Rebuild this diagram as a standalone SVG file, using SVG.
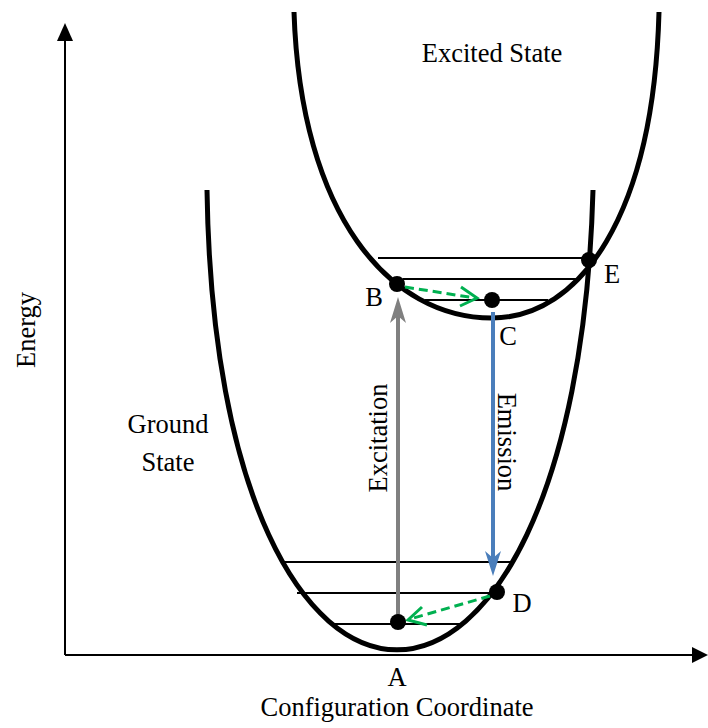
<svg xmlns="http://www.w3.org/2000/svg" width="708" height="728" viewBox="0 0 708 728">
<style>
.curve{fill:none;stroke:#000;stroke-width:5}
.lvl{stroke:#000;stroke-width:2}
.axis{stroke:#000;stroke-width:2;fill:none}
.dot{fill:#000}
.lbl{font-family:"Liberation Serif","Times New Roman",serif;font-size:26.5px;fill:#000;text-anchor:middle}
.green{stroke:#00b050;stroke-width:3;fill:none}
.dash{stroke-dasharray:9 5}
</style>
<rect width="708" height="728" fill="#fff"/>
<g id="axes">
<line class="axis" x1="65" y1="655" x2="65" y2="38"/>
<polygon points="65,23 57,41 73,41" fill="#000"/>
<line class="axis" x1="65" y1="655" x2="694" y2="655"/>
<polygon points="708,655 692,647 692,663" fill="#000"/>
<text class="lbl" transform="translate(35,330) rotate(-90)">Energy</text>
<text class="lbl" x="397" y="716">Configuration Coordinate</text>
</g>
<g id="ground">
<path class="curve" d="M207,190 C216,803 576,803 593,190"/>
<line class="lvl" x1="281" y1="562" x2="514" y2="562"/>
<line class="lvl" x1="297" y1="593" x2="497" y2="593"/>
<line class="lvl" x1="333" y1="624" x2="465" y2="624"/>
<text class="lbl" x="168" y="433">Ground</text>
<text class="lbl" x="168" y="471">State</text>
</g>
<g id="excited">
<path class="curve" d="M294,12 C300.7,215.9 390,318 492,318 C580,318 653.4,215.9 659,12"/>
<line class="lvl" x1="378" y1="258" x2="590" y2="258"/>
<line class="lvl" x1="403" y1="279" x2="576" y2="279"/>
<line class="lvl" x1="425" y1="300" x2="548" y2="300"/>
<text class="lbl" x="492" y="62">Excited State</text>
</g>
<g id="connectors">
<line x1="398" y1="622" x2="398" y2="312" stroke="#808080" stroke-width="4"/>
<path d="M398,297 L406,323 L398,316 L390,323 Z" fill="#808080"/>
<text class="lbl" transform="translate(387,438) rotate(-90)">Excitation</text>
<line x1="493" y1="312" x2="493" y2="560" stroke="#4a7ebb" stroke-width="4"/>
<path d="M493,576 L485,551 L493,558 L501,551 Z" fill="#4a7ebb"/>
<text class="lbl" transform="translate(498,442) rotate(90)">Emission</text>
<line class="green dash" x1="405" y1="287" x2="475" y2="298"/>
<polyline class="green" points="461,287 477,298 460,306"/>
<line class="green dash" x1="490" y1="596" x2="410" y2="619"/>
<polyline class="green" points="422,607 408,620 427,625"/>
</g>
<g id="A"><circle class="dot" cx="398" cy="622" r="8"/><text class="lbl" x="397" y="686">A</text></g>
<g id="B"><circle class="dot" cx="397" cy="284" r="8"/><text class="lbl" x="374" y="306">B</text></g>
<g id="C"><circle class="dot" cx="492" cy="300" r="8"/><text class="lbl" x="508" y="345">C</text></g>
<g id="D"><circle class="dot" cx="497" cy="592" r="8"/><text class="lbl" x="522" y="612">D</text></g>
<g id="E"><circle class="dot" cx="589" cy="260" r="8"/><text class="lbl" x="612" y="283">E</text></g>
</svg>
